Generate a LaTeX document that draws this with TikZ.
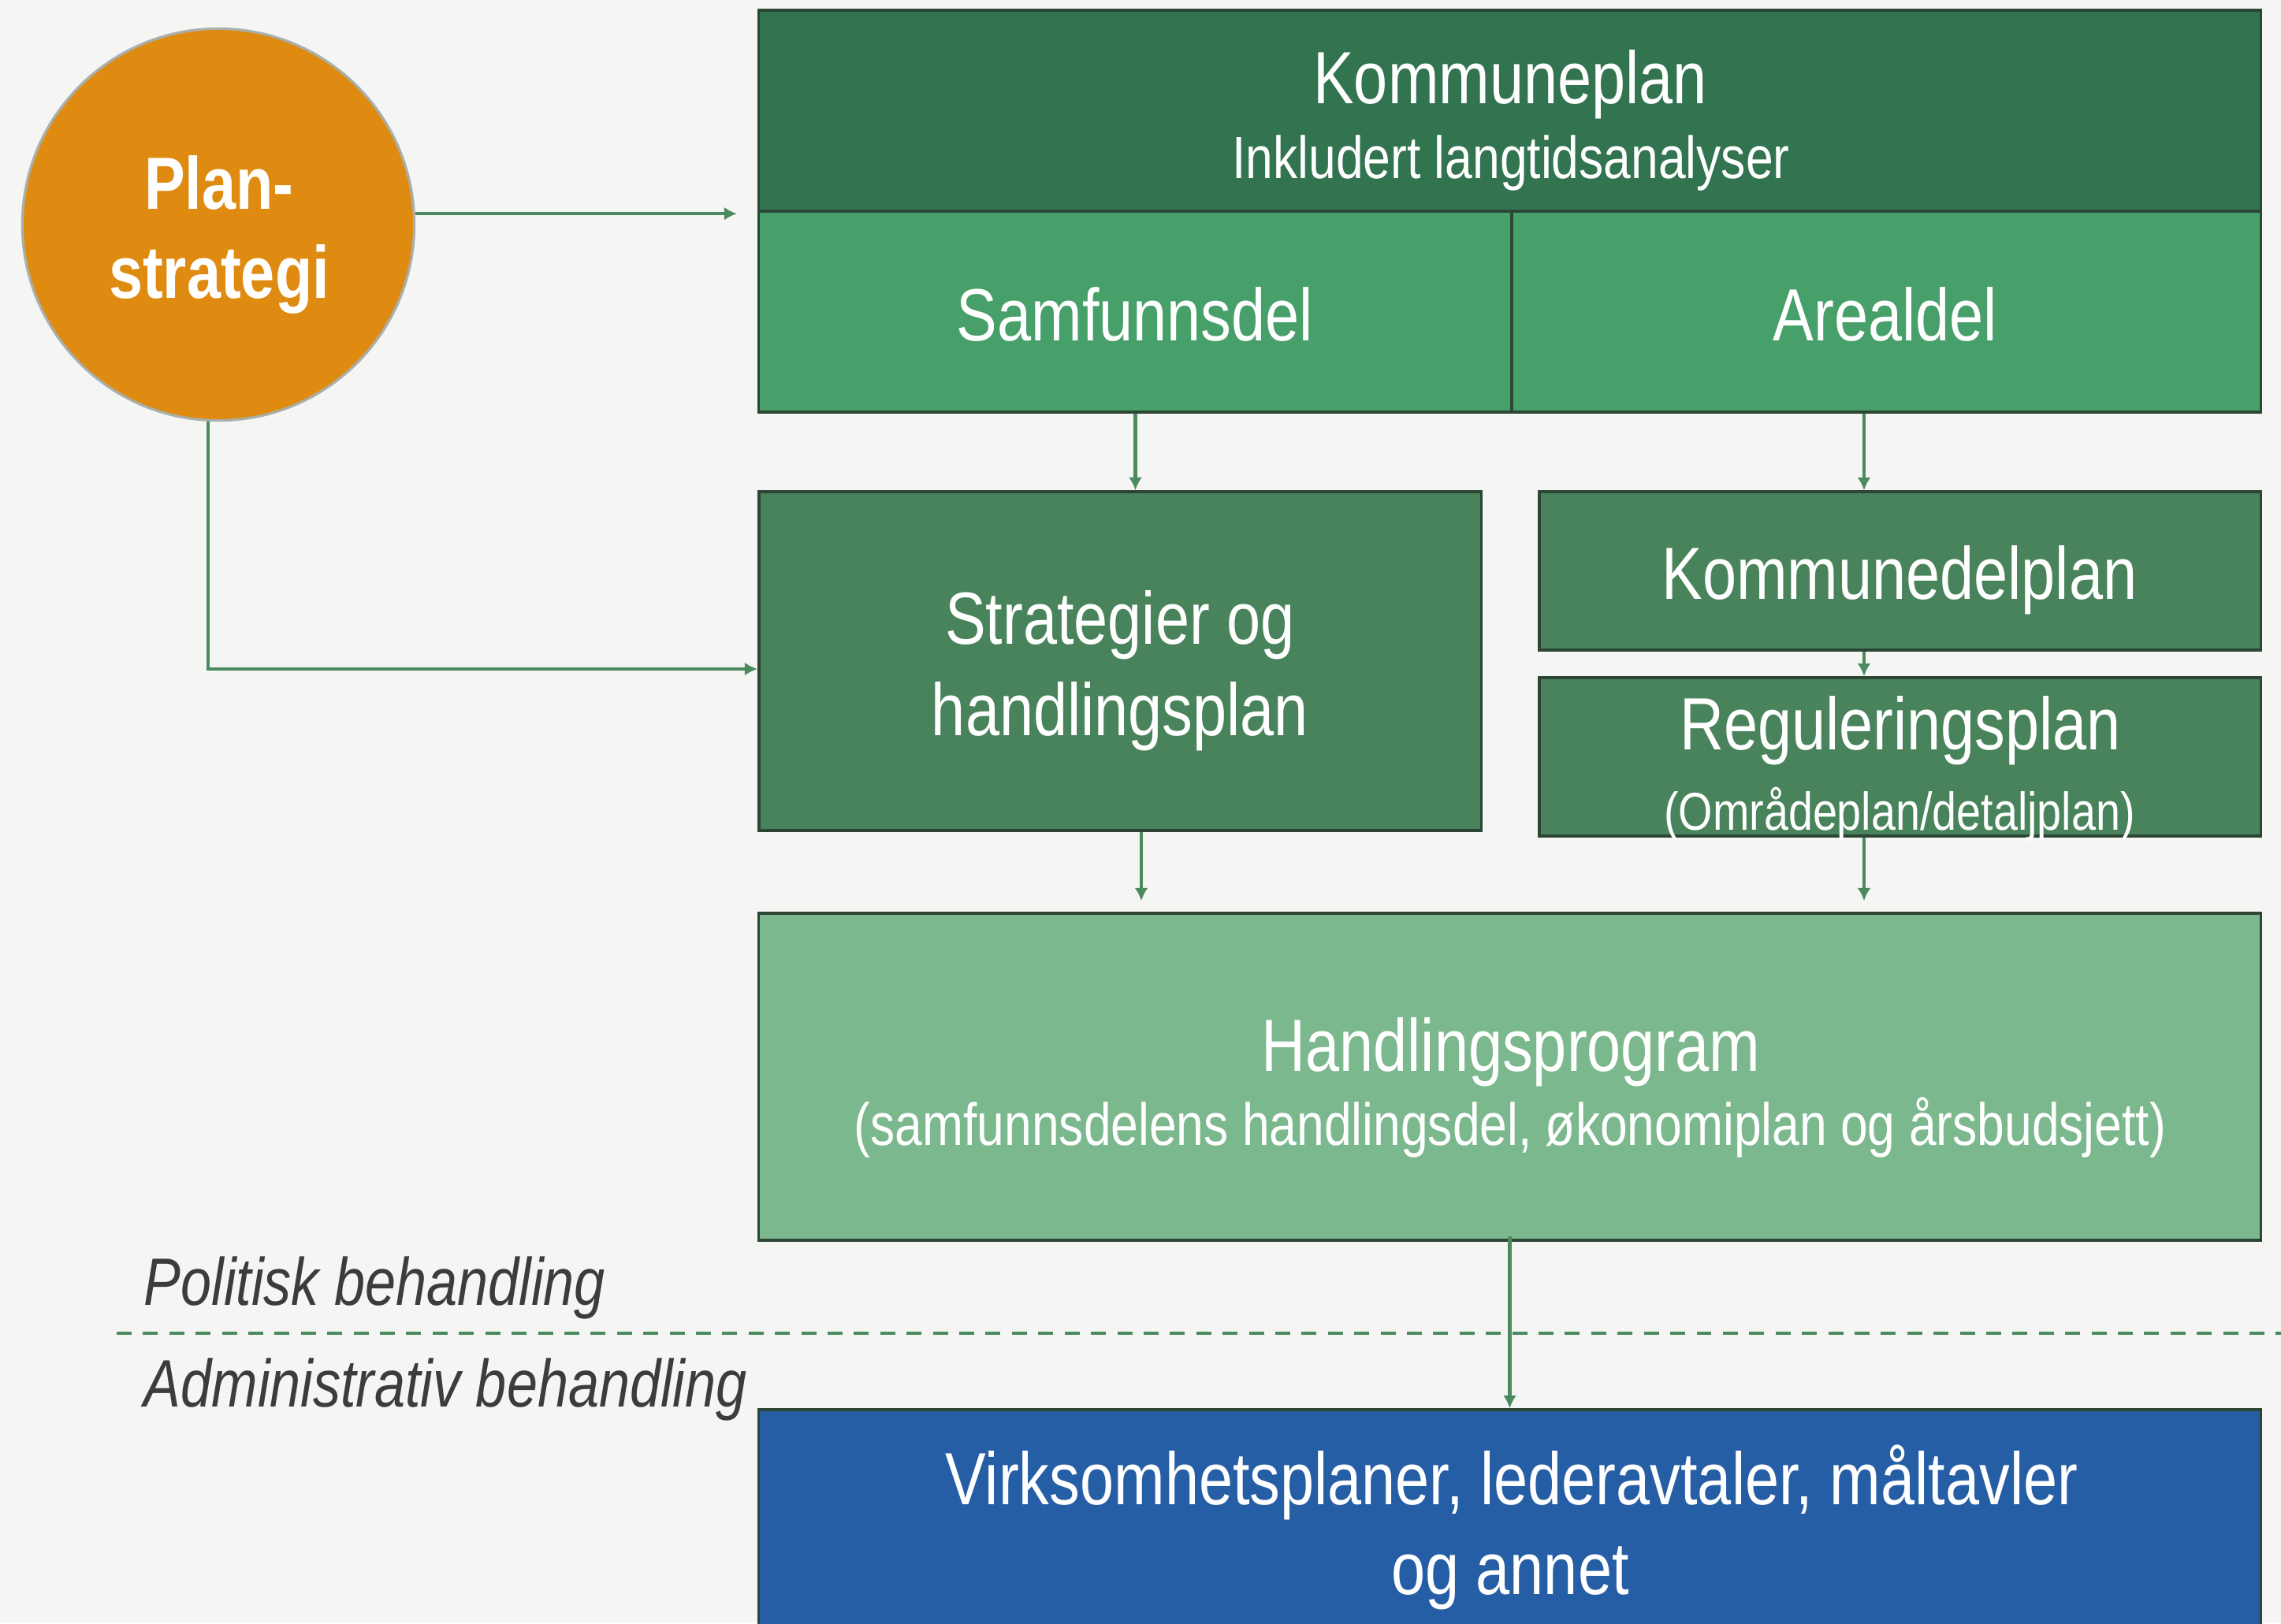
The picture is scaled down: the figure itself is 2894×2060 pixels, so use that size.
\documentclass[tikz,border=0pt]{standalone}
\usepackage{fontspec}
\setmainfont{Liberation Sans}[FakeStretch=0.825]
\usetikzlibrary{arrows.meta}

\definecolor{bakgrunn}{HTML}{F5F6F3}
\definecolor{kplanmork}{HTML}{327350}
\definecolor{delgronn}{HTML}{47A06A}
\definecolor{plangronn}{HTML}{48835B}
\definecolor{programgronn}{HTML}{7CB88E}
\definecolor{virkblaa}{HTML}{255EA5}
\definecolor{oransje}{HTML}{DF8B11}
\definecolor{sirkelkant}{HTML}{A8B0AE}
\definecolor{kantlinje}{HTML}{2C4535}
\definecolor{pilgronn}{HTML}{4A8A5E}
\definecolor{tekstgraa}{HTML}{3C3C3C}

\tikzset{
  boks/.style={draw=kantlinje, line width=1pt, rectangle, inner sep=0pt},
  tekst/.style={text=white, anchor=base, inner sep=0pt, font=\fontsize{26.7}{32}\selectfont},
  smal/.style={tekst, font=\fontsize{21.5}{26}\selectfont},
  niva/.style={text=tekstgraa, anchor=base west, inner sep=0pt, font=\fontsize{24.2}{29}\selectfont\itshape},
  pil/.style={draw=pilgronn, line width=1.3pt, -{Latex[length=4.6pt,width=4.8pt]}},
}

\begin{document}
\begin{tikzpicture}[x=0.01cm, y=-0.01cm]
  \fill[bakgrunn] (0,0) rectangle (2894,2060);
  \useasboundingbox (0,0) rectangle (2894,2060);

  % boksene
  \node[boks, fill=kplanmork, minimum width=19.05cm, minimum height=2.55cm] (kplan) at (1915.5,140.5) {};
  \node[boks, fill=delgronn, minimum width=9.55cm, minimum height=2.55cm] (samfunn) at (1440.5,395.5) {};
  \node[boks, fill=delgronn, minimum width=9.5cm, minimum height=2.55cm] (areal) at (2393,395.5) {};
  \node[boks, fill=plangronn, minimum width=9.16cm, minimum height=4.3cm] (strat) at (1421,839) {};
  \node[boks, fill=plangronn, minimum width=9.15cm, minimum height=2.01cm] (kdel) at (2410.5,724.5) {};
  \node[boks, fill=plangronn, minimum width=9.15cm, minimum height=2.01cm] (regul) at (2410.5,960.5) {};
  \node[boks, fill=programgronn, minimum width=19.05cm, minimum height=4.15cm] (handl) at (1915.5,1366.5) {};
  \node[boks, fill=virkblaa, minimum width=19.05cm, minimum height=2.91cm] (virk) at (1915.5,1934.5) {};
  \node[circle, draw=sirkelkant, line width=0.9pt, fill=oransje, minimum size=4.97cm, inner sep=0pt] (sirkel) at (277,285) {};

  % tekster
  \node[tekst] (kplan-navn) at (1916,131) {Kommuneplan};
  \node[smal] (kplan-under) at (1917,226) {Inkludert langtidsanalyser};
  \node[tekst] (samfunn-navn) at (1440,432) {Samfunnsdel};
  \node[tekst] (areal-navn) at (2392,432) {Arealdel};
  \node[tekst] (strat-a) at (1421,817) {Strategier og};
  \node[tekst] (strat-b) at (1421,933) {handlingsplan};
  \node[tekst] (kdel-navn) at (2410,760) {Kommunedelplan};
  \node[tekst] (regul-navn) at (2411,951) {Reguleringsplan};
  \node[tekst, font=\fontsize{19.2}{23}\selectfont] (regul-under) at (2410,1053) {(Områdeplan/detaljplan)};
  \node[tekst] (handl-navn) at (1917,1359) {Handlingsprogram};
  \node[smal] (handl-under) at (1916,1453) {(samfunnsdelens handlingsdel, økonomiplan og årsbudsjett)};
  \node[tekst] (virk-a) at (1918,1909) {Virksomhetsplaner, lederavtaler, måltavler};
  \node[tekst] (virk-b) at (1916,2023) {og annet};
  \node[tekst, font=\fontsize{26.7}{32}\selectfont\bfseries] (sirkel-a) at (278,265) {Plan-};
  \node[tekst, font=\fontsize{26.7}{32}\selectfont\bfseries] (sirkel-b) at (278,378) {strategi};

  % skillelinje
  \coordinate (skille-v) at (148,1692);
  \coordinate (skille-h) at (2894,1692);
  \draw[pilgronn, line width=1.33pt, dash pattern=on 5.4pt off 4.1pt] (skille-v) -- (skille-h);
  \node[niva] (politisk) at (182,1656) {Politisk behandling};
  \node[niva] (admin) at (182,1785) {Administrativ behandling};

  % piler
  \coordinate (inngang) at ([yshift=-0.05cm]samfunn.north west);
  \coordinate (hoyre) at ([xshift=-0.28cm]areal.south);
  \draw[pil, shorten >=0.26cm] (sirkel.east |- inngang) -- (inngang);
  \draw[pil] ([xshift=-0.13cm]sirkel.south) |- ([yshift=-0.10cm]strat.west);
  \draw[pil] (samfunn.south) -- (samfunn.south |- strat.north);
  \draw[pil] (hoyre) -- (hoyre |- kdel.north);
  \draw[pil] (hoyre |- kdel.south) -- (hoyre |- regul.north);
  \draw[pil, shorten >=0.14cm] (hoyre |- regul.south) -- (hoyre |- handl.north);
  \draw[pil, shorten >=0.14cm] ([xshift=0.27cm]strat.south) -- ([xshift=0.27cm]strat.south |- handl.north);
  \draw[pil] ([yshift=0.07cm]handl.south) -- (virk.north);
\end{tikzpicture}
\end{document}
